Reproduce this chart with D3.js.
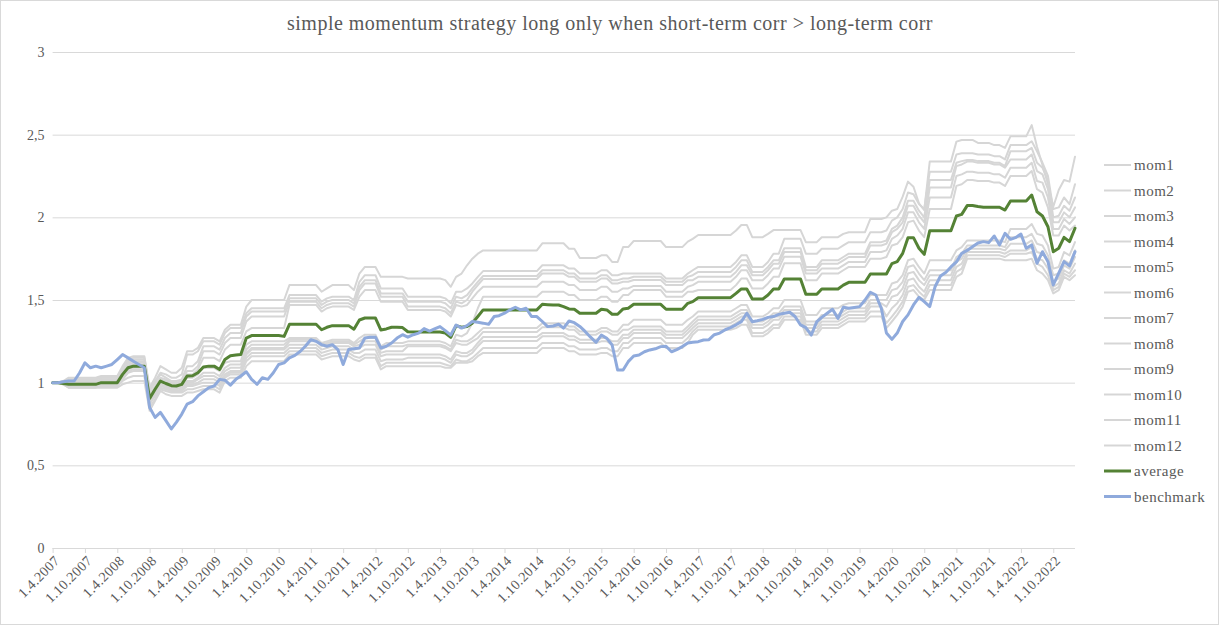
<!DOCTYPE html>
<html><head><meta charset="utf-8">
<script src="https://cdn.jsdelivr.net/npm/d3@7"></script>
<style>
body{margin:0;background:#fff}
svg{display:block}
text{font-family:"Liberation Serif","Times New Roman",serif;fill:#595959}
</style>
</head><body>
<svg id="chart" width="1219" height="625"></svg>
<script>
// ---------------- DATA ----------------
const firstMonth = new Date(2007, 3, 1);   // 1.4.2007
const lastMonthExclusive = new Date(2023, 2, 1); // through Feb 2023
const titleText = "simple momentum strategy long only when short-term corr > long-term corr";
const yTicks = [0, 0.5, 1, 1.5, 2, 2.5, 3];
const seriesNames = ["mom1","mom2","mom3","mom4","mom5","mom6","mom7","mom8","mom9","mom10","mom11","mom12","average","benchmark"];

const mom1 = [
1.00,1.00,1.01,1.03,1.03,1.03,1.03,1.03,1.03,1.04,1.04,1.04,1.04,
1.10,1.15,1.16,1.16,1.16,0.97,1.03,1.10,1.08,1.06,1.06,1.09,
1.19,1.19,1.21,1.27,1.27,1.27,1.25,1.32,1.35,1.35,1.35,1.46,1.50,1.50,1.50,1.50,1.50,1.50,1.50,
1.59,1.59,1.59,1.59,1.59,1.59,1.55,1.57,1.59,1.59,1.59,1.59,1.56,1.66,1.70,1.70,1.70,1.64,1.64,1.64,1.64,1.64,
1.63,1.63,1.63,1.63,1.63,1.63,1.63,1.62,1.58,1.64,1.66,1.71,1.75,1.78,
1.80,1.80,1.80,1.80,1.80,1.80,1.80,1.80,1.80,1.80,1.80,1.843,1.843,1.843,1.843,1.843,1.81,1.81,1.754,1.754,1.754,1.754,1.77,1.77,1.73,1.73,1.82,1.82,
1.857,1.857,1.857,1.857,1.857,1.857,1.82,1.82,1.82,1.82,1.853,1.87,1.893,1.893,1.893,1.893,1.893,1.893,1.893,1.92,1.954,1.954,1.88,1.88,1.88,1.90,1.923,1.923,
1.923,1.923,1.923,1.923,1.85,1.85,1.85,1.88,1.88,1.88,1.88,1.90,1.91,1.91,1.91,1.91,1.99,1.99,1.99,2.00,2.04,2.05,2.125,2.216,2.185,2.085,2.044,
2.337,2.337,2.337,2.337,2.337,2.458,2.468,2.468,2.468,2.45,2.45,2.45,2.437,2.437,2.42,2.49,2.49,2.49,2.49,2.558,2.427,2.317,2.20,2.064,2.165,2.226,2.216,2.367];

const mom2 = [
1.00,1.00,1.01,1.02,1.02,1.02,1.02,1.02,1.02,1.03,1.03,1.03,1.03,
1.09,1.14,1.15,1.15,1.15,0.96,1.01,1.06,1.05,1.03,1.03,1.05,
1.17,1.17,1.19,1.25,1.25,1.25,1.23,1.30,1.33,1.33,1.33,1.42,1.45,1.45,1.45,1.45,1.45,1.45,1.45,
1.53,1.53,1.53,1.53,1.53,1.53,1.49,1.51,1.52,1.52,1.52,1.52,1.50,1.61,1.65,1.65,1.65,1.57,1.57,1.57,1.57,1.57,
1.52,1.52,1.52,1.52,1.52,1.52,1.52,1.51,1.48,1.55,1.55,1.57,1.60,1.64,
1.675,1.675,1.675,1.675,1.675,1.675,1.675,1.675,1.675,1.675,1.675,1.71,1.71,1.71,1.71,1.71,1.69,1.69,1.66,1.66,1.66,1.66,1.68,1.68,1.65,1.65,1.66,1.66,
1.661,1.661,1.661,1.661,1.661,1.661,1.63,1.63,1.63,1.63,1.66,1.68,1.70,1.70,1.70,1.70,1.70,1.70,1.70,1.73,1.77,1.77,1.70,1.70,1.70,1.73,1.78,1.78,
1.87,1.87,1.87,1.87,1.78,1.78,1.78,1.81,1.81,1.81,1.81,1.83,1.85,1.85,1.85,1.85,1.91,1.91,1.91,1.92,1.98,2.00,2.05,2.15,2.14,2.08,2.05,
2.276,2.276,2.276,2.276,2.276,2.38,2.387,2.387,2.387,2.38,2.38,2.38,2.37,2.37,2.35,2.437,2.437,2.437,2.437,2.46,2.40,2.33,2.25,2.05,2.06,2.12,2.08,2.20];

const mom3 = [
1.00,1.00,1.00,1.02,1.02,1.02,1.02,1.02,1.02,1.03,1.03,1.03,1.03,
1.08,1.13,1.14,1.14,1.14,0.95,1.00,1.05,1.03,1.01,1.01,1.02,
1.10,1.10,1.13,1.22,1.22,1.22,1.20,1.27,1.30,1.30,1.30,1.40,1.43,1.43,1.43,1.43,1.43,1.43,1.43,
1.51,1.51,1.51,1.51,1.51,1.51,1.47,1.49,1.50,1.50,1.50,1.50,1.48,1.58,1.62,1.62,1.62,1.54,1.54,1.54,1.54,1.54,
1.49,1.49,1.49,1.49,1.49,1.49,1.49,1.48,1.45,1.52,1.51,1.53,1.57,1.61,
1.645,1.645,1.645,1.645,1.645,1.645,1.645,1.645,1.645,1.645,1.645,1.68,1.68,1.68,1.68,1.68,1.66,1.66,1.63,1.63,1.63,1.63,1.65,1.65,1.62,1.62,1.63,1.63,
1.641,1.641,1.641,1.641,1.641,1.641,1.61,1.61,1.61,1.61,1.64,1.65,1.67,1.67,1.67,1.67,1.67,1.67,1.67,1.70,1.74,1.74,1.67,1.67,1.67,1.70,1.74,1.74,
1.813,1.813,1.813,1.813,1.70,1.70,1.70,1.74,1.74,1.74,1.74,1.76,1.78,1.78,1.78,1.78,1.85,1.85,1.85,1.86,1.93,1.95,2.00,2.10,2.10,2.04,2.00,
2.226,2.226,2.226,2.226,2.226,2.33,2.34,2.347,2.347,2.34,2.34,2.34,2.33,2.33,2.31,2.40,2.40,2.40,2.40,2.42,2.33,2.30,2.22,2.00,2.01,2.07,2.04,2.12];

const mom4 = [
1.00,1.00,1.00,1.01,1.01,1.01,1.01,1.01,1.01,1.02,1.02,1.02,1.02,
1.07,1.12,1.13,1.13,1.13,0.93,0.98,1.03,1.02,1.00,1.00,1.01,
1.07,1.07,1.10,1.19,1.19,1.19,1.17,1.24,1.27,1.27,1.27,1.37,1.40,1.40,1.40,1.40,1.40,1.40,1.40,
1.49,1.49,1.49,1.49,1.49,1.49,1.45,1.47,1.48,1.48,1.48,1.48,1.46,1.56,1.60,1.60,1.60,1.52,1.52,1.52,1.52,1.52,
1.46,1.46,1.46,1.46,1.46,1.46,1.46,1.45,1.42,1.49,1.48,1.50,1.55,1.59,
1.627,1.627,1.627,1.627,1.627,1.627,1.627,1.627,1.627,1.627,1.627,1.66,1.66,1.66,1.66,1.66,1.64,1.64,1.61,1.61,1.61,1.61,1.63,1.63,1.60,1.60,1.61,1.61,
1.621,1.621,1.621,1.621,1.621,1.621,1.59,1.59,1.59,1.59,1.62,1.62,1.64,1.64,1.64,1.64,1.64,1.64,1.64,1.67,1.71,1.71,1.65,1.65,1.65,1.68,1.72,1.72,
1.79,1.79,1.79,1.79,1.68,1.68,1.68,1.72,1.72,1.72,1.72,1.74,1.76,1.76,1.76,1.76,1.83,1.83,1.83,1.84,1.91,1.93,1.97,2.07,2.07,2.01,1.97,
2.18,2.18,2.18,2.18,2.18,2.31,2.32,2.337,2.337,2.33,2.33,2.33,2.32,2.32,2.30,2.35,2.35,2.35,2.35,2.38,2.28,2.26,2.17,1.97,1.97,2.03,2.00,2.06];

const mom5 = [
1.00,1.00,1.00,1.00,1.00,1.00,1.00,1.00,1.00,1.01,1.01,1.01,1.01,
1.06,1.11,1.12,1.12,1.12,0.92,0.97,1.02,1.01,0.99,0.99,1.00,
1.05,1.05,1.08,1.15,1.15,1.15,1.13,1.20,1.23,1.23,1.23,1.31,1.33,1.33,1.33,1.33,1.33,1.33,1.33,
1.47,1.47,1.47,1.47,1.47,1.47,1.43,1.45,1.46,1.46,1.46,1.46,1.44,1.52,1.56,1.56,1.56,1.49,1.49,1.49,1.49,1.49,
1.44,1.44,1.44,1.44,1.44,1.44,1.44,1.43,1.40,1.47,1.46,1.47,1.51,1.55,
1.58,1.58,1.58,1.58,1.58,1.58,1.58,1.58,1.58,1.58,1.58,1.61,1.61,1.61,1.61,1.61,1.59,1.59,1.56,1.56,1.56,1.56,1.58,1.58,1.55,1.55,1.57,1.57,
1.585,1.585,1.585,1.585,1.585,1.585,1.55,1.55,1.55,1.55,1.58,1.59,1.61,1.61,1.61,1.61,1.61,1.61,1.61,1.64,1.68,1.68,1.62,1.62,1.62,1.65,1.69,1.69,
1.762,1.762,1.762,1.762,1.66,1.66,1.66,1.69,1.69,1.69,1.69,1.71,1.73,1.73,1.73,1.73,1.79,1.79,1.79,1.80,1.87,1.89,1.93,2.03,2.03,1.97,1.93,
2.12,2.12,2.12,2.12,2.12,2.25,2.26,2.276,2.276,2.27,2.27,2.27,2.26,2.26,2.24,2.30,2.30,2.30,2.30,2.33,2.22,2.21,2.12,1.93,1.93,1.99,1.96,2.00];

const mom6 = [
1.00,1.00,1.00,1.00,1.00,1.00,1.00,1.00,1.00,1.00,1.00,1.00,1.00,
1.05,1.10,1.11,1.11,1.11,0.91,0.96,1.01,1.00,0.98,0.98,0.99,
1.03,1.03,1.05,1.09,1.09,1.09,1.07,1.12,1.13,1.13,1.13,1.23,1.25,1.25,1.25,1.25,1.25,1.25,1.25,
1.27,1.27,1.27,1.27,1.27,1.27,1.24,1.25,1.26,1.26,1.26,1.26,1.24,1.27,1.29,1.29,1.29,1.22,1.24,1.24,1.24,1.24,
1.25,1.25,1.25,1.25,1.25,1.25,1.25,1.24,1.22,1.29,1.28,1.30,1.36,1.45,
1.52,1.52,1.52,1.52,1.52,1.52,1.52,1.52,1.52,1.52,1.52,1.55,1.55,1.55,1.55,1.55,1.53,1.53,1.50,1.50,1.50,1.50,1.52,1.52,1.49,1.49,1.53,1.53,
1.56,1.56,1.56,1.56,1.56,1.56,1.52,1.52,1.52,1.52,1.55,1.55,1.56,1.56,1.56,1.56,1.56,1.56,1.56,1.59,1.63,1.63,1.57,1.57,1.57,1.60,1.64,1.64,
1.722,1.722,1.722,1.722,1.62,1.62,1.62,1.66,1.66,1.66,1.66,1.68,1.70,1.70,1.70,1.70,1.75,1.75,1.75,1.76,1.83,1.84,1.88,1.97,1.98,1.92,1.88,
2.05,2.05,2.05,2.05,2.05,2.19,2.20,2.226,2.226,2.22,2.22,2.22,2.21,2.21,2.19,2.25,2.25,2.25,2.25,2.28,2.17,2.15,2.06,1.89,1.89,1.95,1.92,1.95];

const mom7 = [
1.00,1.00,0.99,0.99,0.99,0.99,0.99,0.99,0.99,0.99,0.99,0.99,0.99,
1.04,1.09,1.10,1.10,1.10,0.90,0.95,1.00,0.99,0.97,0.97,0.98,
1.01,1.01,1.03,1.06,1.06,1.06,1.04,1.09,1.11,1.11,1.11,1.20,1.23,1.23,1.23,1.23,1.23,1.23,1.23,
1.26,1.26,1.26,1.26,1.26,1.26,1.23,1.24,1.25,1.25,1.25,1.25,1.23,1.25,1.27,1.27,1.27,1.20,1.22,1.22,1.22,1.22,
1.23,1.23,1.23,1.23,1.23,1.23,1.23,1.22,1.20,1.26,1.25,1.25,1.27,1.30,
1.33,1.33,1.33,1.33,1.33,1.33,1.33,1.33,1.33,1.33,1.33,1.36,1.36,1.36,1.36,1.36,1.34,1.34,1.31,1.31,1.31,1.31,1.33,1.33,1.31,1.31,1.35,1.35,
1.38,1.38,1.38,1.38,1.38,1.38,1.35,1.35,1.35,1.35,1.38,1.40,1.43,1.43,1.43,1.43,1.43,1.43,1.43,1.45,1.47,1.47,1.40,1.40,1.40,1.42,1.45,1.45,
1.50,1.50,1.50,1.50,1.41,1.41,1.41,1.45,1.45,1.45,1.45,1.47,1.48,1.48,1.48,1.48,1.53,1.53,1.53,1.53,1.60,1.61,1.65,1.74,1.75,1.70,1.66,
1.74,1.74,1.74,1.74,1.74,1.80,1.82,1.86,1.86,1.86,1.86,1.86,1.86,1.86,1.85,1.93,1.93,1.93,1.93,1.96,1.90,1.89,1.83,1.69,1.70,1.79,1.77,1.85];

const mom8 = [
1.00,1.00,0.99,0.98,0.98,0.98,0.98,0.98,0.98,0.99,0.99,0.99,0.99,
1.03,1.08,1.09,1.09,1.09,0.89,0.94,0.99,0.98,0.96,0.96,0.97,
1.00,1.00,1.02,1.04,1.04,1.04,1.02,1.07,1.09,1.09,1.09,1.18,1.21,1.21,1.21,1.21,1.21,1.21,1.21,
1.25,1.25,1.25,1.25,1.25,1.25,1.22,1.23,1.24,1.24,1.24,1.24,1.22,1.23,1.25,1.25,1.25,1.18,1.19,1.19,1.19,1.19,
1.22,1.22,1.22,1.22,1.22,1.22,1.22,1.21,1.19,1.24,1.23,1.23,1.25,1.27,
1.307,1.307,1.307,1.307,1.307,1.307,1.307,1.307,1.307,1.307,1.307,1.335,1.335,1.335,1.335,1.335,1.32,1.32,1.29,1.29,1.29,1.29,1.31,1.31,1.29,1.29,1.32,1.32,
1.34,1.34,1.34,1.34,1.34,1.34,1.31,1.31,1.31,1.31,1.34,1.37,1.40,1.40,1.40,1.40,1.40,1.40,1.40,1.42,1.44,1.44,1.37,1.37,1.37,1.39,1.42,1.42,
1.46,1.46,1.46,1.46,1.37,1.37,1.37,1.41,1.41,1.41,1.41,1.43,1.45,1.45,1.45,1.45,1.50,1.50,1.50,1.50,1.56,1.57,1.61,1.70,1.71,1.66,1.62,
1.68,1.68,1.68,1.68,1.68,1.76,1.78,1.83,1.83,1.83,1.83,1.83,1.83,1.83,1.82,1.88,1.88,1.88,1.88,1.90,1.84,1.83,1.77,1.65,1.66,1.74,1.72,1.80];

const mom9 = [
1.00,1.00,0.99,0.98,0.98,0.98,0.98,0.98,0.98,0.98,0.98,0.98,0.98,
1.02,1.07,1.08,1.08,1.08,0.88,0.93,0.98,0.97,0.95,0.95,0.96,
0.99,0.99,1.00,1.02,1.02,1.02,1.00,1.05,1.07,1.07,1.07,1.17,1.20,1.20,1.20,1.20,1.20,1.20,1.20,
1.23,1.23,1.23,1.23,1.23,1.23,1.20,1.21,1.22,1.22,1.22,1.22,1.20,1.21,1.23,1.23,1.23,1.16,1.17,1.17,1.17,1.17,
1.17,1.17,1.17,1.17,1.17,1.17,1.17,1.16,1.14,1.19,1.18,1.18,1.20,1.24,
1.276,1.276,1.276,1.276,1.276,1.276,1.276,1.276,1.276,1.276,1.276,1.30,1.30,1.30,1.30,1.30,1.28,1.28,1.26,1.26,1.26,1.26,1.27,1.27,1.25,1.25,1.29,1.29,
1.32,1.32,1.32,1.32,1.32,1.32,1.29,1.29,1.29,1.29,1.32,1.35,1.38,1.38,1.38,1.38,1.38,1.38,1.38,1.40,1.42,1.42,1.35,1.35,1.35,1.37,1.40,1.40,
1.44,1.44,1.44,1.44,1.35,1.35,1.35,1.39,1.39,1.39,1.39,1.41,1.43,1.43,1.43,1.43,1.48,1.48,1.48,1.46,1.52,1.53,1.57,1.66,1.67,1.62,1.59,
1.65,1.65,1.65,1.65,1.65,1.73,1.75,1.81,1.81,1.81,1.81,1.81,1.81,1.81,1.80,1.84,1.84,1.84,1.84,1.86,1.79,1.78,1.73,1.61,1.63,1.71,1.69,1.76];

const mom10 = [
1.00,1.00,0.99,0.98,0.98,0.98,0.98,0.98,0.98,0.98,0.98,0.98,0.98,
1.02,1.06,1.07,1.07,1.07,0.87,0.92,0.97,0.96,0.95,0.95,0.95,
0.98,0.98,0.99,1.00,1.00,1.00,0.98,1.04,1.06,1.06,1.06,1.15,1.18,1.18,1.18,1.18,1.18,1.18,1.18,
1.21,1.21,1.21,1.21,1.21,1.21,1.18,1.19,1.20,1.20,1.20,1.20,1.18,1.18,1.20,1.20,1.20,1.13,1.14,1.14,1.14,1.14,
1.15,1.15,1.15,1.15,1.15,1.15,1.15,1.14,1.12,1.17,1.16,1.16,1.18,1.22,
1.252,1.252,1.252,1.252,1.252,1.252,1.252,1.252,1.252,1.252,1.252,1.28,1.28,1.28,1.28,1.28,1.26,1.26,1.24,1.24,1.24,1.24,1.25,1.25,1.23,1.23,1.27,1.27,
1.30,1.30,1.30,1.30,1.30,1.30,1.27,1.27,1.27,1.27,1.30,1.33,1.36,1.36,1.36,1.36,1.36,1.36,1.36,1.38,1.40,1.40,1.33,1.33,1.33,1.35,1.38,1.38,
1.42,1.42,1.42,1.42,1.33,1.33,1.33,1.37,1.37,1.37,1.37,1.39,1.41,1.41,1.41,1.41,1.46,1.46,1.46,1.40,1.45,1.48,1.53,1.62,1.63,1.58,1.55,
1.62,1.62,1.62,1.62,1.62,1.70,1.72,1.79,1.79,1.79,1.79,1.79,1.79,1.79,1.78,1.80,1.80,1.80,1.80,1.82,1.75,1.74,1.69,1.58,1.60,1.68,1.66,1.72];

const mom11 = [
1.00,1.00,0.99,0.97,0.97,0.97,0.97,0.97,0.97,0.98,0.98,0.98,0.98,
1.01,1.03,1.04,1.04,1.04,0.85,0.90,0.96,0.95,0.94,0.94,0.94,
0.96,0.96,0.97,0.98,0.98,0.98,0.96,1.03,1.05,1.05,1.05,1.13,1.16,1.16,1.16,1.16,1.16,1.16,1.16,
1.19,1.19,1.19,1.19,1.19,1.19,1.16,1.17,1.18,1.18,1.18,1.18,1.16,1.15,1.17,1.17,1.17,1.10,1.12,1.12,1.12,1.12,
1.12,1.12,1.12,1.12,1.12,1.12,1.12,1.11,1.10,1.14,1.13,1.13,1.15,1.18,
1.21,1.21,1.21,1.21,1.21,1.21,1.21,1.21,1.21,1.21,1.21,1.24,1.24,1.24,1.24,1.24,1.22,1.22,1.20,1.20,1.20,1.20,1.21,1.21,1.19,1.19,1.24,1.24,
1.27,1.27,1.27,1.27,1.27,1.27,1.24,1.24,1.24,1.24,1.27,1.31,1.34,1.34,1.34,1.34,1.34,1.34,1.34,1.36,1.38,1.38,1.30,1.30,1.30,1.32,1.35,1.35,
1.40,1.40,1.40,1.40,1.31,1.31,1.31,1.35,1.35,1.35,1.35,1.37,1.39,1.39,1.39,1.39,1.43,1.43,1.43,1.36,1.40,1.44,1.49,1.58,1.59,1.55,1.52,
1.59,1.59,1.59,1.59,1.59,1.67,1.69,1.77,1.77,1.77,1.77,1.77,1.77,1.77,1.76,1.78,1.78,1.78,1.78,1.79,1.72,1.70,1.65,1.56,1.58,1.66,1.64,1.68];

const mom12 = [
1.00,1.00,0.99,0.97,0.97,0.97,0.97,0.97,0.97,0.97,0.97,0.97,0.97,
0.99,1.00,1.01,1.01,1.01,0.83,0.89,0.95,0.93,0.92,0.92,0.92,
0.94,0.94,0.95,0.96,0.96,0.96,0.94,1.01,1.03,1.03,1.03,1.10,1.13,1.13,1.13,1.13,1.13,1.13,1.13,
1.17,1.17,1.17,1.17,1.17,1.17,1.14,1.15,1.16,1.16,1.16,1.16,1.14,1.13,1.15,1.15,1.15,1.08,1.10,1.10,1.10,1.10,
1.10,1.10,1.10,1.10,1.10,1.10,1.10,1.09,1.09,1.12,1.12,1.12,1.13,1.16,
1.18,1.18,1.18,1.18,1.18,1.18,1.18,1.18,1.18,1.18,1.18,1.21,1.21,1.21,1.21,1.21,1.19,1.19,1.17,1.17,1.17,1.17,1.18,1.18,1.16,1.16,1.21,1.21,
1.24,1.24,1.24,1.24,1.24,1.24,1.21,1.21,1.21,1.21,1.24,1.29,1.32,1.32,1.32,1.32,1.32,1.32,1.32,1.33,1.35,1.35,1.28,1.28,1.28,1.30,1.33,1.33,
1.38,1.38,1.38,1.38,1.29,1.29,1.29,1.33,1.33,1.33,1.33,1.35,1.37,1.37,1.37,1.37,1.40,1.40,1.40,1.33,1.37,1.41,1.46,1.55,1.56,1.52,1.50,
1.56,1.56,1.56,1.56,1.56,1.64,1.66,1.75,1.75,1.75,1.75,1.75,1.75,1.75,1.74,1.74,1.74,1.74,1.74,1.75,1.68,1.66,1.62,1.54,1.56,1.64,1.62,1.65];

const average = [
1.00,1.00,0.995,0.99,0.99,0.99,0.99,0.99,0.99,1.00,1.00,1.00,1.00,
1.05,1.09,1.10,1.10,1.10,0.905,0.96,1.01,0.995,0.982,0.98,0.99,
1.04,1.042,1.06,1.095,1.10,1.10,1.08,1.14,1.163,1.167,1.17,1.27,1.285,1.285,1.285,1.285,1.285,1.285,1.28,
1.353,1.353,1.353,1.353,1.353,1.353,1.32,1.335,1.345,1.345,1.345,1.345,1.323,1.379,1.391,1.391,1.391,1.319,1.325,1.335,1.335,1.333,
1.308,1.306,1.306,1.306,1.306,1.306,1.306,1.30,1.274,1.345,1.335,1.34,1.36,1.40,
1.44,1.44,1.44,1.44,1.44,1.44,1.44,1.44,1.44,1.44,1.44,1.474,1.472,1.47,1.47,1.46,1.446,1.444,1.42,1.42,1.42,1.42,1.444,1.44,1.414,1.414,1.446,1.45,
1.474,1.474,1.474,1.474,1.474,1.474,1.444,1.444,1.444,1.444,1.48,1.49,1.514,1.514,1.514,1.514,1.514,1.514,1.514,1.54,1.567,1.567,1.506,1.506,1.506,1.53,1.567,1.567,
1.627,1.627,1.627,1.627,1.535,1.535,1.535,1.567,1.567,1.567,1.567,1.59,1.607,1.607,1.607,1.607,1.657,1.657,1.657,1.657,1.72,1.732,1.782,1.877,1.877,1.813,1.776,
1.919,1.919,1.919,1.919,1.919,2.008,2.018,2.071,2.071,2.065,2.061,2.061,2.061,2.061,2.044,2.099,2.099,2.099,2.099,2.135,2.034,2.008,1.943,1.792,1.813,1.879,1.853,1.934];

const benchmark = [
1.00,1.00,1.005,1.01,1.01,1.06,1.12,1.09,1.10,1.09,1.10,1.11,1.14,
1.17,1.15,1.13,1.11,1.09,0.85,0.79,0.82,0.77,0.72,0.76,0.81,
0.87,0.885,0.92,0.945,0.97,0.98,1.02,1.015,0.985,1.02,1.04,1.066,1.02,0.99,1.03,1.02,1.06,1.11,1.12,
1.15,1.165,1.19,1.22,1.26,1.25,1.23,1.22,1.23,1.20,1.11,1.20,1.205,1.21,1.27,1.275,1.275,1.21,1.22,1.24,1.27,1.29,
1.275,1.29,1.30,1.327,1.312,1.325,1.339,1.315,1.288,1.349,1.33,1.345,1.37,1.365,
1.36,1.353,1.40,1.405,1.42,1.44,1.456,1.44,1.45,1.40,1.40,1.37,1.339,1.343,1.353,1.33,1.373,1.363,1.34,1.31,1.275,1.244,1.288,1.268,1.228,1.077,1.077,1.127,
1.161,1.167,1.187,1.198,1.205,1.218,1.22,1.187,1.20,1.218,1.24,1.245,1.248,1.258,1.26,1.29,1.30,1.32,1.333,1.35,1.369,1.42,1.369,1.375,1.383,1.395,1.40,1.413,
1.42,1.426,1.40,1.349,1.333,1.288,1.369,1.395,1.42,1.444,1.389,1.456,1.45,1.455,1.46,1.50,1.547,1.53,1.45,1.30,1.262,1.30,1.37,1.41,1.47,1.516,1.49,
1.46,1.58,1.645,1.668,1.70,1.73,1.782,1.80,1.822,1.845,1.853,1.847,1.887,1.833,1.903,1.867,1.877,1.899,1.813,1.833,1.722,1.792,1.732,1.591,1.662,1.732,1.706,1.792];

// ---------------- CHART ----------------
const W = 1219, H = 625;
const plot = {left: 52.6, right: 1075, top: 52, bottom: 548};
const months = d3.timeMonth.range(firstMonth, lastMonthExclusive);
const tickDates = d3.timeMonth.range(firstMonth, new Date(2022, 10, 1), 6);

const svg = d3.select("#chart");
svg.append("rect").attr("x",0.5).attr("y",0.5).attr("width",W-1).attr("height",H-1)
  .attr("fill","#fff").attr("stroke","#d9d9d9");

const x = d3.scaleTime().domain([months[0], months[months.length-1]]).range([plot.left, plot.right]);
const y = d3.scaleLinear().domain([0,3]).range([plot.bottom, plot.top]);

const loc = d3.formatLocale({decimal: ",", thousands: " ", grouping: [3], currency: ["", ""]});
const yFmt = loc.format("~g");

// gridlines
const grid = svg.append("g").attr("transform", `translate(${plot.left},0)`)
  .call(d3.axisLeft(y).tickValues(yTicks).tickSize(-(plot.right - plot.left)).tickFormat(""));
grid.select(".domain").remove();
grid.selectAll("line").attr("stroke","#d9d9d9").attr("stroke-width",1);

// y labels
const yAx = svg.append("g").attr("transform", `translate(${plot.left},0)`)
  .call(d3.axisLeft(y).tickValues(yTicks).tickSize(0).tickPadding(8).tickFormat(yFmt));
yAx.select(".domain").remove();
yAx.selectAll("text").attr("font-size","14px").attr("font-family",'"Liberation Serif","Times New Roman",serif').attr("fill","#595959");

// x axis
const xAx = svg.append("g").attr("transform", `translate(0,${plot.bottom})`)
  .call(d3.axisBottom(x).tickValues(tickDates).tickSize(5)
     .tickFormat(d => `1.${d.getMonth()+1}.${d.getFullYear()}`));
xAx.select(".domain").attr("stroke","#d9d9d9").attr("d", `M${plot.left},0.5H${plot.right}`);
xAx.selectAll("line").attr("stroke","#d9d9d9");
xAx.selectAll("text")
  .attr("font-size","14px").attr("font-family",'"Liberation Serif","Times New Roman",serif')
  .attr("fill","#595959").style("letter-spacing","0.4px")
  .attr("x",0).attr("y",0).attr("dy","0.35em")
  .attr("text-anchor","end")
  .attr("transform","translate(4,10) rotate(-45)");

// series
const line = d3.line().x((d,i) => x(months[i])).y(d => y(d));
const momSeries = [mom1,mom2,mom3,mom4,mom5,mom6,mom7,mom8,mom9,mom10,mom11,mom12];
const styles = seriesNames.map((n,i) => i < 12 ? {color:"#d6d6d6", width:2} :
  (n === "average" ? {color:"#548235", width:3} : {color:"#8faadc", width:3}));
const allSeries = [...momSeries, average, benchmark];

const gLines = svg.append("g");
allSeries.forEach((s, i) => {
  gLines.append("path").datum(s).attr("d", line)
    .attr("fill","none").attr("stroke", styles[i].color).attr("stroke-width", styles[i].width)
    .attr("stroke-linejoin","round").attr("stroke-linecap","round");
});

// title
svg.append("text").attr("x", 610).attr("y", 30).attr("text-anchor","middle")
  .attr("font-size","20px").style("letter-spacing","0.5px").text(titleText);

// legend
const leg = svg.append("g");
seriesNames.forEach((n, i) => {
  const yy = 165 + i * 25.5;
  leg.append("line").attr("x1",1104).attr("x2",1131).attr("y1",yy).attr("y2",yy)
    .attr("stroke", styles[i].color).attr("stroke-width", styles[i].width);
  leg.append("text").attr("x",1134).attr("y",yy).attr("dy","0.35em")
    .attr("font-size","15px").style("letter-spacing","0.5px").text(n);
});
</script>
</body></html>
